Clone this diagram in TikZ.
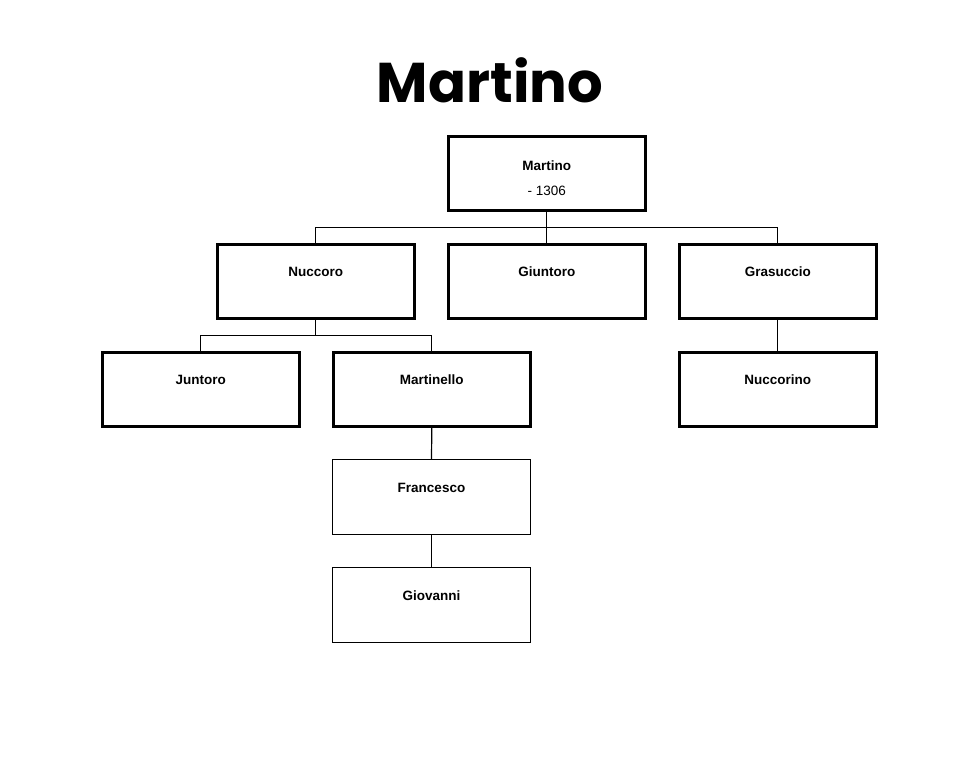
\documentclass[tikz,border=0pt]{standalone}
\usepackage{fontspec}
\setmainfont{Liberation Sans}
\newfontfamily\titlefont{Poppins}
\begin{document}
\begin{tikzpicture}[x=1pt,y=-1pt,
  thickbox/.style={draw,line width=2.6pt,minimum width=197pt,minimum height=74pt,anchor=north west,inner sep=0pt},
  thinbox/.style={draw,line width=1pt,minimum width=198pt,minimum height=75pt,anchor=north west,inner sep=0pt},
  lbl/.style={font=\bfseries\fontsize{13.5}{15}\selectfont,anchor=base,inner sep=0pt},
  conn/.style={line width=1.2pt}]
\useasboundingbox[fill=white] (0,0) rectangle (980,766);
\node[font=\titlefont\bfseries\fontsize{56}{60}\selectfont] (title) at (490,80) {Martino};
\node[thickbox] (martino) at (447,135) {};
\node[thickbox] (nuccoro) at (216,243) {};
\node[thickbox] (giuntoro) at (447,243) {};
\node[thickbox] (grasuccio) at (678,243) {};
\node[thickbox] (juntoro) at (101,351) {};
\node[thickbox] (martinello) at (332,351) {};
\node[thickbox] (nuccorino) at (678,351) {};
\node[thinbox] (francesco) at (332,459) {};
\node[thinbox] (giovanni) at (332,567) {};
\node[lbl] (lm1) at ([yshift=-35pt]martino.north) {Martino};
\node[lbl,font=\fontsize{13.5}{15}\selectfont] (lm2) at ([yshift=-60pt]martino.north) {- 1306};
\foreach \n/\t in {nuccoro/Nuccoro,giuntoro/Giuntoro,grasuccio/Grasuccio,juntoro/Juntoro,martinello/Martinello,nuccorino/Nuccorino,francesco/Francesco,giovanni/Giovanni}
  \node[lbl] (l\n) at ([yshift=-33pt]\n.north) {\t};
\coordinate (j1) at ([yshift=-16pt]martino.south);
\coordinate (j2) at ([yshift=-16pt]nuccoro.south);
\draw[conn] (martino.south) -- (j1);
\draw[conn] (nuccoro.north) |- (j1) -| (grasuccio.north);
\draw[conn] (j1) -- (giuntoro.north);
\draw[conn] (nuccoro.south) -- (j2);
\draw[conn] (juntoro.north) |- (j2) -| (martinello.north);
\draw[conn] (grasuccio.south) -- (nuccorino.north);
\draw[conn] (martinello.south) -- (francesco.north);
\draw[conn] (francesco.south) -- (giovanni.north);
\end{tikzpicture}
\end{document}
